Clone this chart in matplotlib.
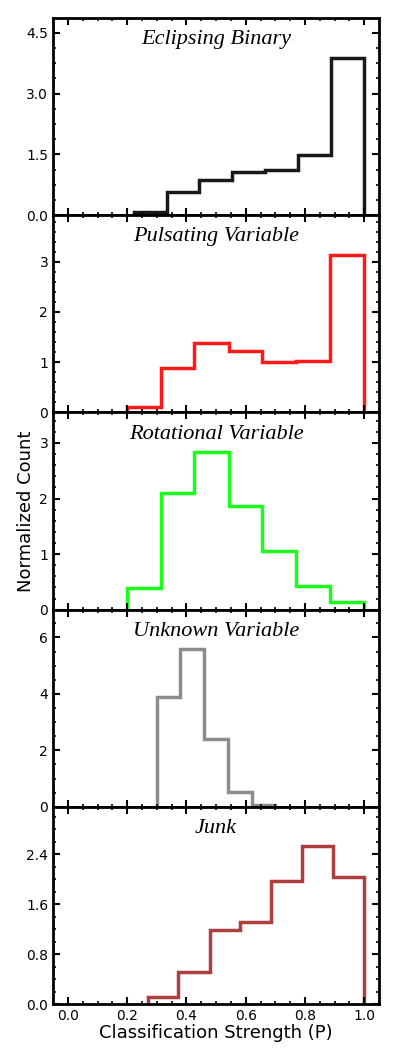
import numpy as np
import matplotlib
matplotlib.use("Agg")
import matplotlib.pyplot as plt
from matplotlib.ticker import AutoMinorLocator, FormatStrFormatter

names = ['Eclipsing Binary', 'Pulsating Variable', 'Rotational Variable',
         'Unknown Variable', 'Junk']
colors = ['black', 'red', 'lime', 'gray', 'brown']

# bin edges (7 or 5 bins) and normalized heights
eb_edges = [0.222, 0.333, 0.444, 0.555, 0.666, 0.778, 0.889, 1.0]
eb_vals = [0.08, 0.57, 0.88, 1.07, 1.11, 1.49, 3.89]
pv_edges = [0.198, 0.313, 0.427, 0.542, 0.656, 0.771, 0.885, 1.0]
pv_vals = [0.10, 0.89, 1.38, 1.23, 1.00, 1.03, 3.14]
rv_edges = [0.198, 0.313, 0.427, 0.542, 0.656, 0.771, 0.885, 1.0]
rv_vals = [0.39, 2.10, 2.84, 1.86, 1.05, 0.43, 0.14]
uv_edges = [0.30, 0.38, 0.46, 0.54, 0.62, 0.70]
uv_vals = [3.89, 5.59, 2.41, 0.53, 0.08]
jk_edges = [0.269, 0.373, 0.478, 0.582, 0.687, 0.791, 0.896, 1.0]
jk_vals = [0.12, 0.52, 1.19, 1.31, 1.97, 2.53, 2.03]

all_edges = [eb_edges, pv_edges, rv_edges, uv_edges, jk_edges]
all_vals = [eb_vals, pv_vals, rv_vals, uv_vals, jk_vals]
yticks = [[0, 1.5, 3.0, 4.5], [0, 1, 2, 3], [0, 1, 2, 3], [0, 2, 4, 6],
          [0, 0.8, 1.6, 2.4]]
yfmt = ['%.1f', '%d', '%d', '%d', '%.1f']

fig, axes = plt.subplots(5, 1, figsize=(3.99, 10.63), dpi=100, sharex=True)
fig.subplots_adjust(left=0.133, right=0.95, top=0.983, bottom=0.0555, hspace=0)

for i, ax in enumerate(axes):
    ax.stairs(all_vals[i], all_edges[i], color=colors[i], lw=2.5, alpha=0.9)
    ax.set_xlim(-0.05, 1.05)
    ax.set_ylim(0, max(all_vals[i]) * 1.25)
    ax.set_yticks(yticks[i])
    ax.yaxis.set_major_formatter(FormatStrFormatter(yfmt[i]))
    ax.xaxis.set_minor_locator(AutoMinorLocator())
    ax.yaxis.set_minor_locator(AutoMinorLocator())
    ax.tick_params(which='both', direction='in', top=True, right=True,
                   labelsize=10)
    ax.tick_params(which='major', length=5, width=1.5)
    ax.tick_params(which='minor', length=2.5, width=1.2)
    for s in ax.spines.values():
        s.set_linewidth(2)
    ax.text(0.5, 0.89, names[i], transform=ax.transAxes, ha='center',
            va='center', fontsize=16, style='italic', family='Liberation Serif')

axes[-1].set_xticks([0.0, 0.2, 0.4, 0.6, 0.8, 1.0])
axes[-1].xaxis.set_major_formatter(FormatStrFormatter('%.1f'))
axes[-1].set_xlabel('Classification Strength (P)', fontsize=13, labelpad=1)
axes[2].set_ylabel('Normalized Count', fontsize=13, labelpad=3)

fig.savefig('out.png', dpi=100)
